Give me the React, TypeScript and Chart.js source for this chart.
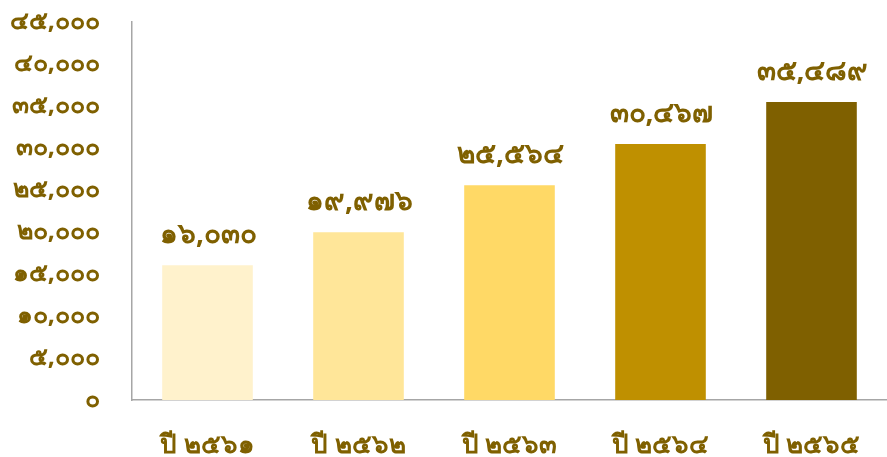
import React, { useEffect, useRef } from "react";
import { Chart, registerables } from "chart.js";

Chart.register(...registerables);

const categories = ["ปี ๒๕๖๑", "ปี ๒๕๖๒", "ปี ๒๕๖๓", "ปี ๒๕๖๔", "ปี ๒๕๖๕"];
const values = [16030, 19976, 25564, 30467, 35489];
const valueLabels = ["๑๖,๐๓๐", "๑๙,๙๗๖", "๒๕,๕๖๔", "๓๐,๔๖๗", "๓๕,๔๘๙"];
const barColors = ["#FFF2CC", "#FFE699", "#FFD966", "#BF9000", "#7F6000"];
const thaiDigits = ["๐", "๑", "๒", "๓", "๔", "๕", "๖", "๗", "๘", "๙"];

const textColor = "#7F6000";
const fontFamily = "'Noto Sans', 'DejaVu Sans', sans-serif";

function toThai(n: number): string {
  return n
    .toLocaleString("en-US")
    .replace(/[0-9]/g, (d) => thaiDigits[Number(d)]);
}

const labelPlugin = {
  id: "valueLabels",
  afterDatasetsDraw(chart: any) {
    const ctx = chart.ctx;
    const meta = chart.getDatasetMeta(0);
    ctx.save();
    ctx.font = `bold 28px ${fontFamily}`;
    ctx.fillStyle = textColor;
    ctx.textAlign = "center";
    ctx.textBaseline = "middle";
    meta.data.forEach((bar: any, i: number) => {
      ctx.fillText(valueLabels[i], bar.x + 1, bar.y - 30);
    });
    ctx.restore();
  },
};

export default function App() {
  const ref = useRef<HTMLCanvasElement>(null);
  useEffect(() => {
    document.body.style.margin = "0";
    const chart = new Chart(ref.current!, {
      type: "bar",
      data: {
        labels: categories,
        datasets: [
          {
            data: values,
            backgroundColor: barColors,
            borderWidth: 0,
            barPercentage: 0.6,
            categoryPercentage: 1,
          },
        ],
      },
      options: {
        responsive: false,
        animation: false,
        layout: { padding: 0 },
        plugins: { legend: { display: false }, tooltip: { enabled: false } },
        scales: {
          x: {
            grid: { display: false, drawTicks: false },
            border: { display: true, color: "#A6A6A6", width: 1.5 },
            afterFit: (s: any) => {
              s.height = 57;
              s.paddingLeft = 0;
              s.paddingRight = 0;
            },
            ticks: {
              color: textColor,
              font: { size: 26, weight: "bold", family: fontFamily, lineHeight: 1 },
              padding: 33,
            },
          },
          y: {
            min: 0,
            max: 45000,
            grid: { display: false, drawTicks: false },
            border: { display: true, color: "#A6A6A6", width: 1.5 },
            afterFit: (s: any) => {
              s.width = 132;
              s.paddingTop = 22;
              s.paddingBottom = 0;
            },
            ticks: {
              stepSize: 5000,
              color: textColor,
              font: { size: 25, weight: "bold", family: fontFamily, lineHeight: 1 },
              padding: 32,
              callback: (v: any) => toThai(Number(v)),
            },
          },
        },
      },
      plugins: [labelPlugin],
    });
    return () => chart.destroy();
  }, []);
  return <canvas ref={ref} width={887} height={457} />;
}
